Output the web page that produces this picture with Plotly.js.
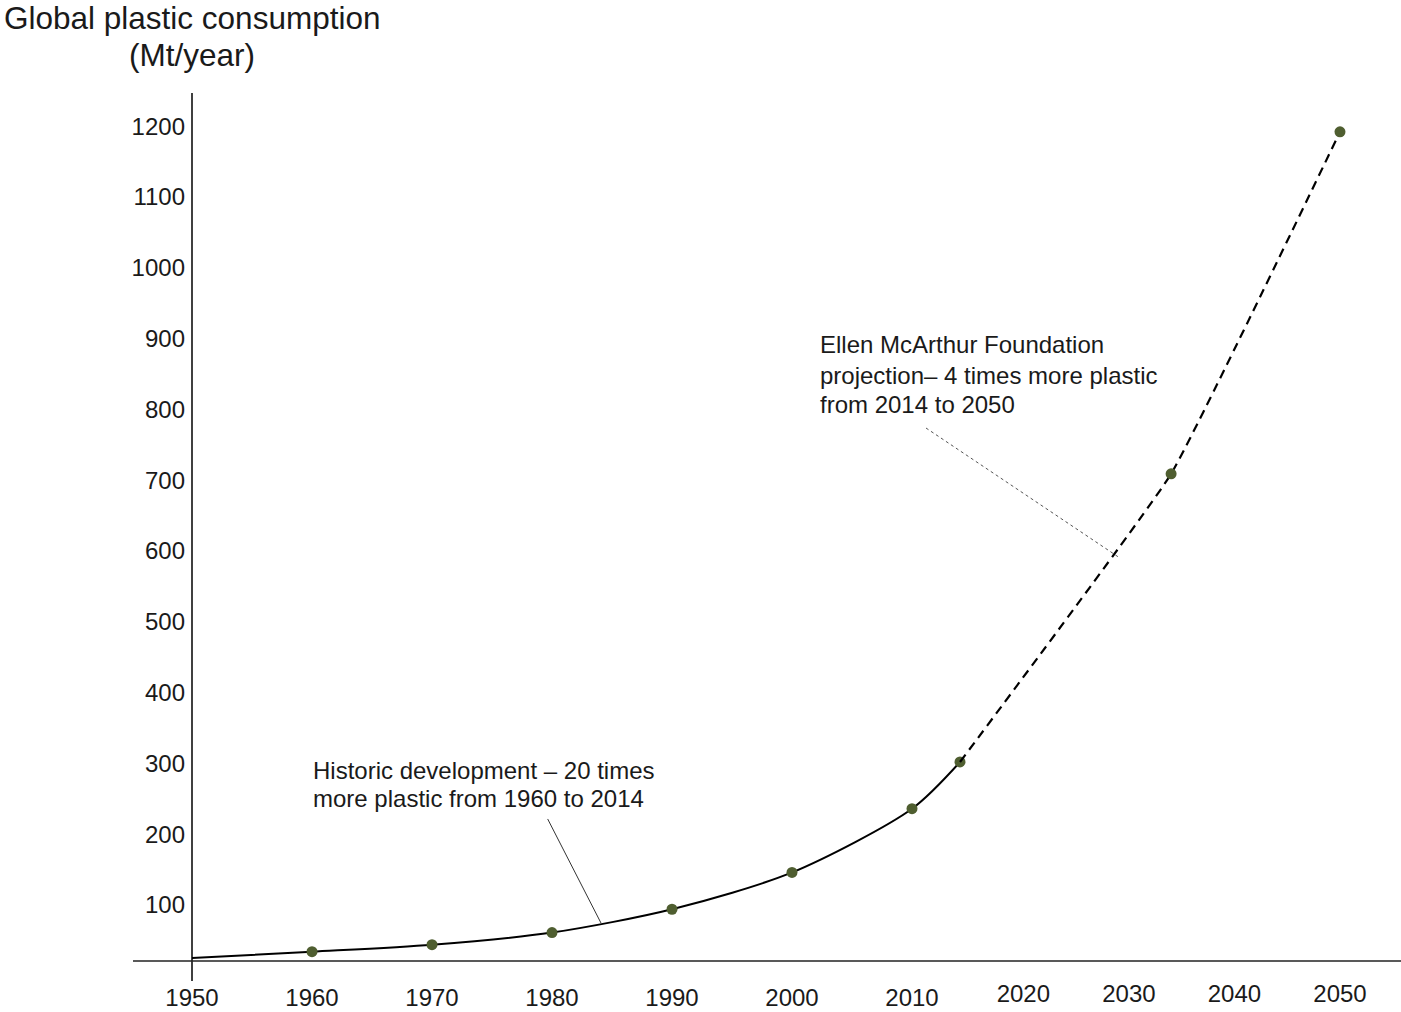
<!DOCTYPE html>
<html>
<head>
<meta charset="utf-8">
<script src="https://cdn.plot.ly/plotly-3.0.1.min.js"></script>
<style>
  html, body { margin: 0; padding: 0; background: #fff; }
  #chart { width: 1401px; height: 1012px; }
</style>
</head>
<body>
<div id="chart"></div>
<script>
// ---- Data ----
const historicYears = [1950, 1960, 1970, 1980, 1990, 2000, 2010, 2014];
const historicValues = [25, 34, 44, 61, 94, 146, 236, 302];
const historicMarkerYears = [1960, 1970, 1980, 1990, 2000, 2010, 2014];
const historicMarkerValues = [34, 44, 61, 94, 146, 236, 302];
const projectionYears = [2014, 2034, 2050];
const projectionValues = [302, 709, 1192];

const historicTickYears = [1950, 1960, 1970, 1980, 1990, 2000, 2010];
const projectionTickYears = [2020, 2030, 2040, 2050];

const yTitleLines = ["Global plastic consumption", "(Mt/year)"];
const historicNoteLines = ["Historic development \u2013 20 times", "more plastic from 1960 to 2014"];
const projectionNoteLines = ["Ellen McArthur Foundation", "projection\u2013 4 times more plastic", "from 2014 to 2050"];

// ---- Styling ----
const FONT = '"Liberation Sans", Arial, Helvetica, sans-serif';
const TEXT = '#1a1a1a';
const MARKER = '#4f5e30';

const traces = [
  {
    x: historicYears, y: historicValues, xaxis: 'x', yaxis: 'y',
    mode: 'lines', line: {color: '#000', width: 2, shape: 'spline', smoothing: 0.8},
    hoverinfo: 'skip', showlegend: false
  },
  {
    x: projectionYears, y: projectionValues, xaxis: 'x2', yaxis: 'y',
    mode: 'lines', line: {color: '#000', width: 2.2, dash: '9px,6px', shape: 'spline', smoothing: 0.3},
    hoverinfo: 'skip', showlegend: false
  },
  {
    x: historicMarkerYears, y: historicMarkerValues, xaxis: 'x', yaxis: 'y',
    mode: 'markers', marker: {color: MARKER, size: 11},
    showlegend: false
  },
  {
    x: projectionYears.slice(1), y: projectionValues.slice(1), xaxis: 'x2', yaxis: 'y',
    mode: 'markers', marker: {color: MARKER, size: 11},
    showlegend: false
  }
];

const annotations = [];
// y-axis title (two centred lines above the axis)
const titleY = [1.0864, 1.0438];
yTitleLines.forEach((t, i) => annotations.push({
  text: t, xref: 'paper', yref: 'paper', x: 0, y: titleY[i],
  xanchor: 'center', yanchor: 'middle', showarrow: false,
  font: {family: FONT, size: 31.5, color: TEXT}
}));
// historic note
const histNoteY = [0.2200, 0.1877];
historicNoteLines.forEach((t, i) => annotations.push({
  text: t, xref: 'paper', yref: 'paper', x: 0.0985, y: histNoteY[i],
  xanchor: 'left', yanchor: 'middle', showarrow: false,
  font: {family: FONT, size: 24, color: TEXT}
}));
// projection note
const projNoteY = [0.7097, 0.6751, 0.6417];
projectionNoteLines.forEach((t, i) => annotations.push({
  text: t, xref: 'paper', yref: 'paper', x: 0.518, y: projNoteY[i],
  xanchor: 'left', yanchor: 'middle', showarrow: false,
  font: {family: FONT, size: 24, color: TEXT}
}));

const shapes = [
  // axis lines (extend past the plot area as in the reference)
  {type: 'line', xref: 'paper', yref: 'paper', x0: 0, x1: 0, y0: -0.023, y1: 1,
   line: {color: '#000', width: 1.5}},
  {type: 'line', xref: 'paper', yref: 'paper', x0: -0.0488, x1: 1, y0: 0, y1: 0,
   line: {color: '#222', width: 1.5}},
  // pointer lines for the notes
  {type: 'line', xref: 'x', yref: 'y', x0: 1979.64, y0: 221.5, x1: 1984.08, y1: 74.6,
   line: {color: '#333', width: 1}},
  {type: 'line', xref: 'x2', yref: 'y', x0: 2010.78, y0: 773.7, x1: 2029.16, y1: 590,
   line: {color: '#555', width: 1, dash: 'dot'}}
];

const tickFont = {family: FONT, size: 24, color: TEXT};

const layout = {
  width: 1401, height: 1012,
  margin: {l: 192, r: 0, t: 93, b: 51},
  paper_bgcolor: '#fff', plot_bgcolor: '#fff',
  showlegend: false,
  xaxis: {
    range: [1950, 2050.75], tickmode: 'array', tickvals: historicTickYears,
    ticktext: historicTickYears.map(String),
    showgrid: false, zeroline: false, showline: false, ticks: '',
    tickfont: tickFont, ticklabelstandoff: 20, fixedrange: true
  },
  xaxis2: {
    overlaying: 'x', anchor: 'y', side: 'bottom',
    range: [1941.24, 2055.78], tickmode: 'array', tickvals: projectionTickYears,
    ticktext: projectionTickYears.map(String),
    showgrid: false, zeroline: false, showline: false, ticks: '',
    tickfont: tickFont, ticklabelstandoff: 16, fixedrange: true
  },
  yaxis: {
    range: [20.9, 1246.9], tick0: 0, dtick: 100,
    showgrid: false, zeroline: false, showline: false, ticks: '',
    tickfont: tickFont, ticklabelstandoff: 6, fixedrange: true
  },
  annotations: annotations,
  shapes: shapes
};

Plotly.newPlot('chart', traces, layout, {displayModeBar: false, staticPlot: true});
</script>
</body>
</html>
